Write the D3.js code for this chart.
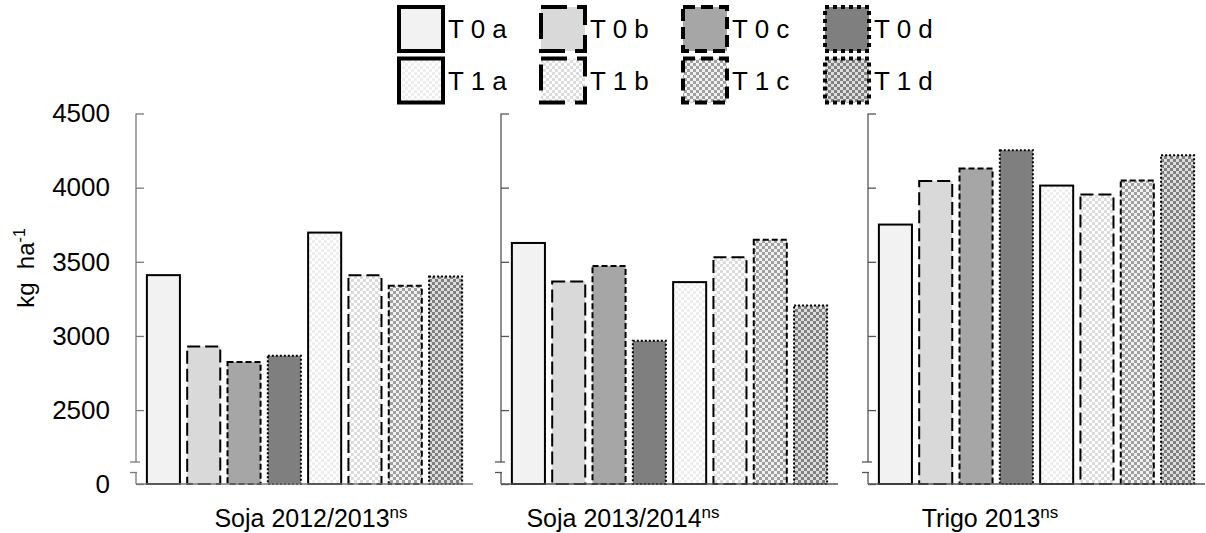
<!DOCTYPE html>
<html>
<head>
<meta charset="utf-8">
<script src="https://cdn.jsdelivr.net/npm/d3@7"></script>
<style>
  html, body { margin: 0; padding: 0; background: #fff; }
  svg { display: block; font-family: "Liberation Sans", Arial, sans-serif; }
</style>
</head>
<body>
<svg id="chart" width="1206" height="533"></svg>
<script>
// Crop / season panels
const panels = ["Soja 2012/2013", "Soja 2013/2014", "Trigo 2013"];
const panelNotes = ["ns", "ns", "ns"];
// Treatments
const treatments = ["T 0 a", "T 0 b", "T 0 c", "T 0 d", "T 1 a", "T 1 b", "T 1 c", "T 1 d"];
// Yield (kg ha-1) per treatment
const soja1213 = [3410, 2929, 2825, 2866, 3697, 3410, 3338, 3401];
const soja1314 = [3627, 3367, 3472, 2967, 3363, 3531, 3648, 3205];
const trigo13  = [3751, 4045, 4129, 4252, 4014, 3953, 4048, 4218];
const seriesByPanel = [soja1213, soja1314, trigo13];
// Axis ticks
const yTicks = [0, 2500, 3000, 3500, 4000, 4500];
const yTickLabels = ["0", "2500", "3000", "3500", "4000", "4500"];
const breakValue = 2150;

// Treatment styles
const styles = [
  { fill: "#f2f2f2", dash: null },
  { fill: "#d9d9d9", dash: [13, 5] },
  { fill: "#a6a6a6", dash: [6, 3] },
  { fill: "#7f7f7f", dash: [2, 2] },
  { pattern: ["#ffffff", "#eeeeee"], dash: null },
  { pattern: ["#ffffff", "#dcdcdc"], dash: [13, 5] },
  { pattern: ["#f2f2f2", "#a0a0a0"], dash: [6, 3] },
  { pattern: ["#dedede", "#808080"], dash: [2, 2] }
];

const svg = d3.select("#chart");
const defs = svg.append("defs");

styles.forEach((s, i) => {
  if (!s.pattern) return;
  const p = defs.append("pattern")
    .attr("id", "chk" + i)
    .attr("patternUnits", "userSpaceOnUse")
    .attr("width", 6).attr("height", 6);
  p.append("rect").attr("width", 6).attr("height", 6).attr("fill", s.pattern[0]);
  p.append("rect").attr("width", 3).attr("height", 3).attr("fill", s.pattern[1]);
  p.append("rect").attr("x", 3).attr("y", 3).attr("width", 3).attr("height", 3).attr("fill", s.pattern[1]);
});
const fillOf = i => styles[i].pattern ? `url(#chk${i})` : styles[i].fill;
const dashOf = (i, k) => styles[i].dash ? styles[i].dash.map(v => v * k).join(",") : null;

// Layout
const yBottom = 484, yTop = 113.5, yBreak = 462;
const panelX = [136, 501, 868];
const panelW = 337;
const labelX = [311, 623, 990];
const axisColors = ["#7a7a7a", "#555555", "#555555"];

const y = d3.scaleLinear()
  .domain([0, breakValue, 4500])
  .range([yBottom, yBreak, yTop]);

panels.forEach((name, pi) => {
  const x0 = panelX[pi];
  const axisColor = axisColors[pi];
  const g = svg.append("g");
  const x = d3.scaleBand()
    .domain(treatments)
    .range([x0, x0 + panelW])
    .paddingInner(0.18)
    .paddingOuter(0.27);

  // bars
  g.selectAll("rect.bar")
    .data(seriesByPanel[pi])
    .join("rect")
    .attr("class", "bar")
    .attr("x", (d, i) => x(treatments[i]))
    .attr("width", x.bandwidth())
    .attr("y", d => y(d))
    .attr("height", d => yBottom - y(d))
    .attr("fill", (d, i) => fillOf(i))
    .attr("stroke", "#000")
    .attr("stroke-width", 2)
    .attr("stroke-dasharray", (d, i) => dashOf(i, 1));

  // y axis with ticks pointing inward
  const axis = d3.axisLeft(y)
    .tickValues(yTicks)
    .tickSizeInner(-8)
    .tickSizeOuter(0)
    .tickPadding(26)
    .tickFormat((d, i) => pi === 0 ? yTickLabels[i] : "");
  const ag = g.append("g")
    .attr("transform", `translate(${x0},0)`)
    .call(axis);
  ag.select(".domain").remove();
  ag.selectAll(".tick line").attr("stroke", axisColor).attr("stroke-width", 1.3);
  ag.selectAll(".tick text")
    .attr("fill", "#000")
    .style("font-size", "26px")
    .style("font-family", "'Liberation Sans', Arial, sans-serif");

  // broken axis line
  const brk = y(breakValue);
  const line = (x1, y1, x2, y2) => g.append("line")
    .attr("x1", x1).attr("y1", y1).attr("x2", x2).attr("y2", y2)
    .attr("stroke", axisColor).attr("stroke-width", 1.3);
  line(x0, y(4500), x0, brk);
  line(x0 - 6, brk, x0 + 4, brk);
  line(x0, brk + 10.5, x0, yBottom);
  line(x0 - 6, brk + 10.5, x0 + 1, brk + 10.5);
  // baseline
  line(x0, yBottom, x0 + panelW, yBottom);

  // panel label
  const t = svg.append("text")
    .attr("x", labelX[pi])
    .attr("y", 527)
    .attr("text-anchor", "middle")
    .style("font-size", "25px")
    .attr("fill", "#000");
  t.append("tspan").text(name);
  t.append("tspan").attr("dy", -9).style("font-size", "17px").text(panelNotes[pi]);
});

// y label
const yl = svg.append("text")
  .attr("transform", "translate(34,268) rotate(-90)")
  .attr("text-anchor", "middle")
  .style("font-size", "24px")
  .attr("fill", "#000");
yl.append("tspan").text("kg\u00a0\u00a0ha");
yl.append("tspan").attr("dy", -9).style("font-size", "16px").text("-1");

// legend
const legX = [399, 541, 683, 825];
const legY = [7, 58.5];
const legend = svg.append("g");
treatments.forEach((t, i) => {
  const col = i % 4, row = Math.floor(i / 4);
  const lx = legX[col], ly = legY[row];
  legend.append("rect")
    .attr("x", lx).attr("y", ly)
    .attr("width", 44).attr("height", 44)
    .attr("fill", fillOf(i))
    .attr("stroke", "#000")
    .attr("stroke-width", 4)
    .attr("stroke-dasharray", dashOf(i, 2));
  legend.append("text")
    .attr("x", lx + 49)
    .attr("y", ly + 31)
    .style("font-size", "26px")
    .attr("fill", "#000")
    .text(t);
});
</script>
</body>
</html>
